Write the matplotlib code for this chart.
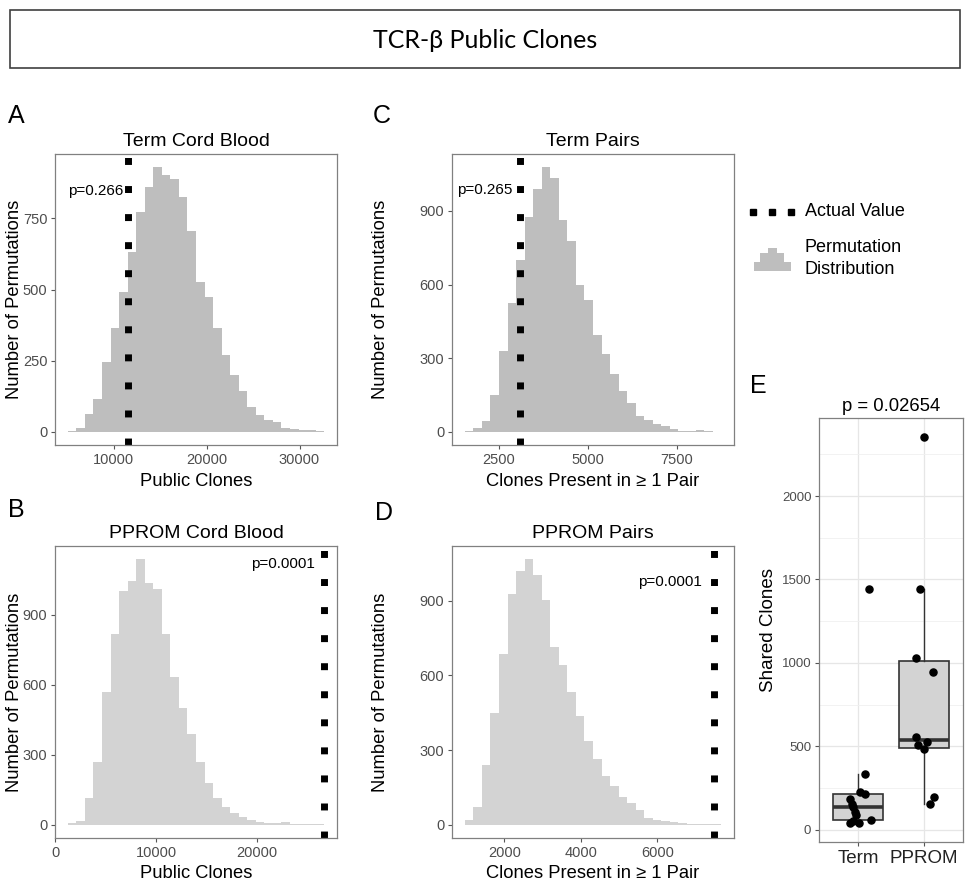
import numpy as np
import matplotlib
matplotlib.use("Agg")
import matplotlib.pyplot as plt
from matplotlib.patches import Rectangle, Polygon
from matplotlib.lines import Line2D

plt.rcParams["font.family"] = ["Liberation Sans", "DejaVu Sans"]
plt.rcParams["lines.scale_dashes"] = False

# ---- data ----
# permutation histograms: 30 bins, first bin edge + bin width
term_cord_counts = [3, 15, 62, 114, 245, 366, 492, 631, 771, 862, 930, 902, 890, 826, 707,
                    527, 474, 364, 269, 199, 143, 88, 58, 41, 33, 15, 9, 7, 5, 2]
term_cord_start, term_cord_width = 5054, 920
term_cord_actual = 11550

term_pair_counts = [4, 14, 45, 150, 331, 524, 700, 876, 991, 1078, 1035, 862, 777, 599, 535,
                    393, 318, 234, 166, 119, 65, 47, 31, 22, 11, 4, 5, 7, 3, 1]
term_pair_start, term_pair_width = 1540, 240.3
term_pair_actual = 3080

pprom_cord_counts = [7, 18, 113, 269, 570, 818, 999, 1044, 1137, 1035, 1010, 815, 631, 500, 390,
                     269, 177, 113, 78, 50, 33, 21, 11, 7, 9, 10, 4, 3, 1, 1]
pprom_cord_start, pprom_cord_width = 1226, 847.5
pprom_cord_actual = 26600

pprom_pair_counts = [21, 71, 241, 448, 687, 927, 1021, 1067, 1004, 904, 713, 644, 533, 437, 337,
                     264, 195, 157, 111, 88, 60, 28, 17, 13, 11, 7, 4, 3, 3, 1]
pprom_pair_start, pprom_pair_width = 966, 223.4
pprom_pair_actual = 7490

p_labels = ["p=0.266", "p=0.265", "p=0.0001", "p=0.0001"]

# shared clones per pair (panel E)
groups = ["Term", "PPROM"]
term_shared = [1442, 336, 226, 215, 185, 155, 135, 105, 87, 57, 51, 41, 41]
term_jitter = [0.17, 0.10, 0.02, 0.11, -0.13, -0.10, -0.08, -0.05, -0.03, 0.19, -0.08, -0.13, 0.01]
pprom_shared = [2353, 1442, 1031, 944, 553, 523, 509, 483, 197, 152]
pprom_jitter = [0.01, -0.05, -0.12, 0.14, -0.12, 0.05, -0.09, 0.0, 0.15, 0.09]

# ---- layout ----
W, H = 971, 882
fig = plt.figure(figsize=(W / 100, H / 100), dpi=100)


def rect(l, t, r, b):
    return [l / W, 1 - b / H, (r - l) / W, (b - t) / H]


def style_axes(ax, tick_size=10.5):
    for s in ax.spines.values():
        s.set_color("#808080")
        s.set_linewidth(0.9)
    ax.tick_params(length=3, width=0.8, color="#555555", labelcolor="#4D4D4D",
                   labelsize=tick_size, pad=2.5)


def hist_panel(box, counts, start, width, actual, color, xticks, yticks,
               title, xlabel, p_text, p_xy, label_y):
    ax = fig.add_axes(rect(*box))
    edges = start + width * np.arange(len(counts) + 1)
    ax.stairs(counts, edges, fill=True, color=color, linewidth=0)
    lo, hi = min(edges[0], actual), max(edges[-1], actual)
    pad = 0.05 * (hi - lo)
    ax.set_xlim(lo - pad, hi + pad)
    top = max(counts)
    ax.set_ylim(-0.05 * top, 1.05 * top)
    ax.plot([actual, actual], [-0.05 * top, 1.05 * top], color="black", lw=5.0,
            dashes=(5.0, 15.2), dash_capstyle="butt", clip_on=False)
    ax.text(p_xy[0], p_xy[1], p_text, ha="right", va="center", fontsize=11)
    ax.set_xticks(xticks)
    ax.set_yticks(yticks)
    style_axes(ax)
    ax.set_title(title, fontsize=14, pad=6)
    ax.set_xlabel(xlabel, fontsize=13.2)
    ax.set_ylabel("Number of Permutations", fontsize=13.2)
    ax.xaxis.set_label_coords(0.5, label_y)
    ax.xaxis.label.set_va("center")
    ax.yaxis.label.set_va("center")
    return ax


axA = hist_panel((55, 154, 337, 445), term_cord_counts, term_cord_start, term_cord_width,
                 term_cord_actual, "#BEBEBE", [10000, 20000, 30000], [0, 250, 500, 750],
                 "Term Cord Blood", "Public Clones", p_labels[0], (10990, 846), -0.127)
axA.yaxis.set_label_coords((15 - 55) / 282, 0.5)

axC = hist_panel((452, 154, 734, 445), term_pair_counts, term_pair_start, term_pair_width,
                 term_pair_actual, "#BEBEBE", [2500, 5000, 7500], [0, 300, 600, 900],
                 "Term Pairs", "Clones Present in \u2265 1 Pair", p_labels[1], (2870, 985), -0.127)
axC.yaxis.set_label_coords((380 - 452) / 282, 0.5)

axB = hist_panel((55, 546, 337, 838), pprom_cord_counts, pprom_cord_start, pprom_cord_width,
                 pprom_cord_actual, "#D3D3D3", [0, 10000, 20000], [0, 300, 600, 900],
                 "PPROM Cord Blood", "Public Clones", p_labels[2], (25750, 1117), -0.12)
axB.yaxis.set_label_coords((15 - 55) / 282, 0.5)

axD = hist_panel((452, 546, 734, 838), pprom_pair_counts, pprom_pair_start, pprom_pair_width,
                 pprom_pair_actual, "#D3D3D3", [2000, 4000, 6000], [0, 300, 600, 900],
                 "PPROM Pairs", "Clones Present in \u2265 1 Pair", p_labels[3], (7165, 975), -0.12)
axD.yaxis.set_label_coords((380 - 452) / 282, 0.5)

# ---- panel E: boxplot with jittered points ----
axE = fig.add_axes(rect(819, 418, 963, 842))
axE.set_axisbelow(True)
axE.boxplot([term_shared, pprom_shared], positions=[1, 2], widths=0.76, showfliers=False,
            showcaps=False, patch_artist=True,
            boxprops=dict(facecolor="#D3D3D3", edgecolor="#333333", linewidth=1.2),
            medianprops=dict(color="#333333", linewidth=2.6),
            whiskerprops=dict(color="#333333", linewidth=1.0))
axE.scatter(1 + np.array(term_jitter), term_shared, s=26, color="black", zorder=3)
axE.scatter(2 + np.array(pprom_jitter), pprom_shared, s=26, color="black", zorder=3)
allv = term_shared + pprom_shared
span = max(allv) - min(allv)
axE.set_ylim(min(allv) - 0.05 * span, max(allv) + 0.05 * span)
axE.set_xlim(0.4, 2.6)
axE.set_xticks([1, 2], groups)
axE.set_yticks([0, 500, 1000, 1500, 2000])
axE.set_yticks([250, 750, 1250, 1750, 2250], minor=True)
axE.grid(True, which="major", color="#E6E6E6", linewidth=0.9)
axE.grid(True, which="minor", axis="y", color="#F0F0F0", linewidth=0.6)
style_axes(axE, tick_size=9.5)
axE.tick_params(axis="x", labelsize=13.5, labelcolor="#222222")
axE.tick_params(which="minor", length=0)
axE.set_title("p = 0.02654", fontsize=13.3, pad=5)
axE.set_ylabel("Shared Clones", fontsize=13.5)
axE.yaxis.set_label_coords((768 - 819) / 144, 0.5)
axE.yaxis.label.set_va("center")

# ---- title box ----
fig.patches.append(Rectangle((10 / W, 1 - 68 / H), 950 / W, 58 / H, transform=fig.transFigure,
                             fill=False, edgecolor="#404040", linewidth=1.2))
fig.text(485 / W, 1 - 40 / H, "TCR-\u03b2 Public Clones", ha="center", va="center",
         fontsize=18, family=["Lato", "DejaVu Sans"])

# ---- panel letters ----
for letter, x, y in [("A", 8, 123), ("C", 373, 123), ("B", 8, 517), ("D", 375, 520), ("E", 750, 393)]:
    fig.text(x / W, 1 - y / H, letter, fontsize=18, va="baseline", ha="left")

# ---- legend ----
fig.add_artist(Line2D([753 / W, 772 / W, 791 / W], [1 - 212 / H] * 3, transform=fig.transFigure,
                      ls="none", marker="s", markersize=4.3, color="black"))
fig.text(805 / W, 1 - 212 / H, "Actual Value", fontsize=13, va="center")
step = [(754, 271), (754, 262), (760, 262), (760, 253), (768, 253), (768, 248), (777, 248),
        (777, 253), (784, 253), (784, 262), (791, 262), (791, 271)]
fig.patches.append(Polygon([(x / W, 1 - y / H) for x, y in step], closed=True,
                           transform=fig.transFigure, facecolor="#BEBEBE", edgecolor="none"))
fig.text(805 / W, 1 - 248 / H, "Permutation", fontsize=13, va="center")
fig.text(805 / W, 1 - 270 / H, "Distribution", fontsize=13, va="center")

fig.savefig("out.png", dpi=100, facecolor="white")
